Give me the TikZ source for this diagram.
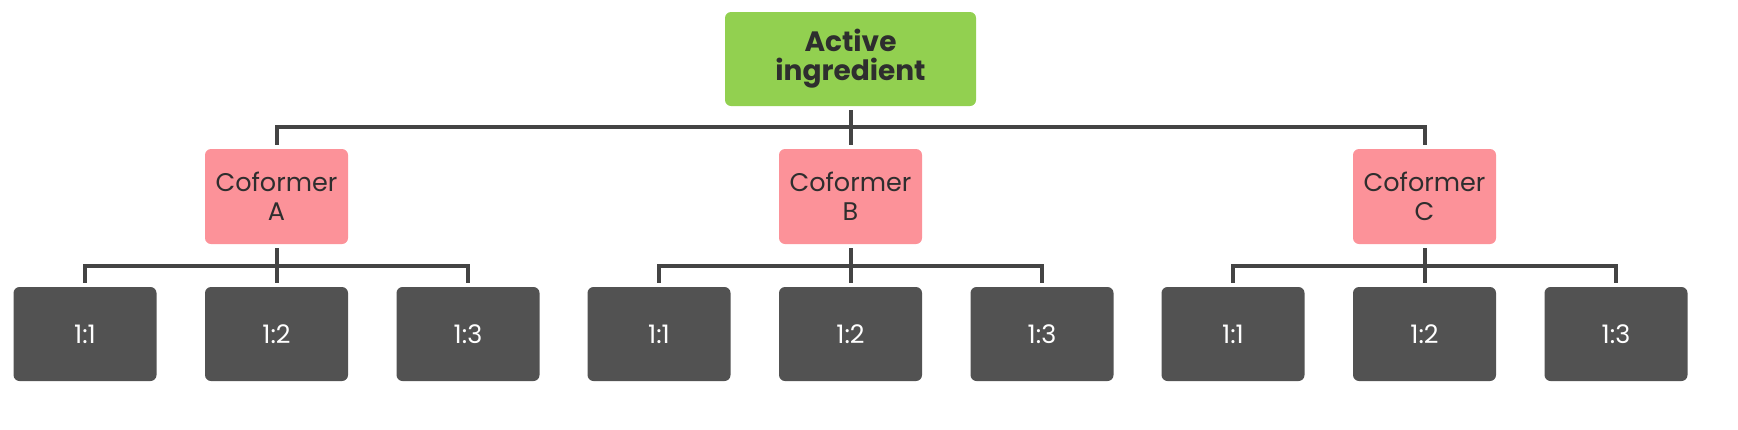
\documentclass[tikz,border=0pt]{standalone}
\usepackage{fontspec}
\setmainfont{Poppins}
\usetikzlibrary{positioning}
\definecolor{rootgreen}{HTML}{92D050}
\definecolor{cofpink}{HTML}{FC9299}
\definecolor{leafgray}{HTML}{525252}
\definecolor{linkgray}{HTML}{444444}
\definecolor{textdark}{HTML}{2E2E2E}
\tikzset{
	box/.style={rounded corners=6pt, outer sep=0pt, inner sep=0pt, align=center,
			font=\fontsize{25.5}{29}\selectfont},
	rootbox/.style={box, fill=rootgreen, text=textdark, minimum width=251pt, minimum height=94pt,
			font=\fontsize{28}{29}\selectfont\bfseries},
	cofbox/.style={box, fill=cofpink, text=textdark, minimum width=143pt, minimum height=95pt},
	leafbox/.style={box, fill=leafgray, text=white, minimum width=143pt, minimum height=94pt},
	link/.style={draw=linkgray, line width=4pt, shorten <=4pt, shorten >=4pt}
}

\begin{document}
\begin{tikzpicture}[x=1pt, y=-1pt]
	\useasboundingbox (0,0) rectangle (1738,429);
	\node[rootbox] (root) at (850.5,59) {Active\\ingredient};
	\node[cofbox, below=43pt of root] (cB) {Coformer\\B};
	\node[cofbox, left=431pt of cB] (cA) {Coformer\\A};
	\node[cofbox, right=431pt of cB] (cC) {Coformer\\C};
	% leaves under each coformer
	\foreach \c in {A,B,C}{
		\node[leafbox, below=43pt of c\c] (l\c2) {1:2};
		\node[leafbox, left=48.5pt of l\c2] (l\c1) {1:1};
		\node[leafbox, right=48.5pt of l\c2] (l\c3) {1:3};
		\draw[link] (c\c.south) -- (l\c2.north);
		\draw[link] (c\c.south) -- ++(0,21.5) -| (l\c1.north);
		\draw[link] (c\c.south) -- ++(0,21.5) -| (l\c3.north);
	}
	\draw[link] (root.south) -- (cB.north);
	\draw[link] (root.south) -- ++(0,21) -| (cA.north);
	\draw[link] (root.south) -- ++(0,21) -| (cC.north);
\end{tikzpicture}
\end{document}
